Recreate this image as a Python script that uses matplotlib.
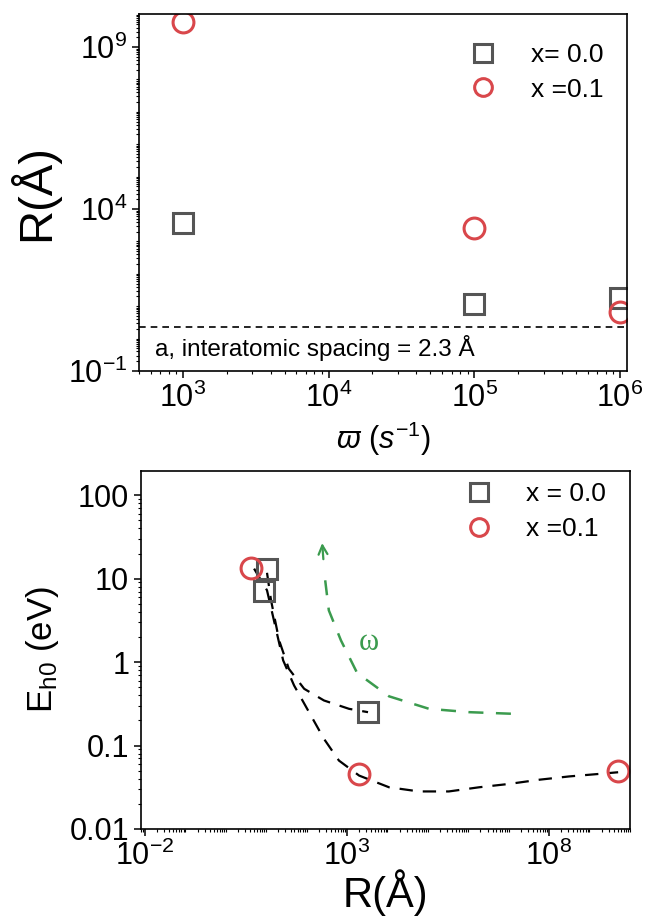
import numpy as np
import matplotlib
matplotlib.use("Agg")
import matplotlib.pyplot as plt
from matplotlib.ticker import LogLocator, NullFormatter, FixedLocator

plt.rcParams['font.family'] = ['Liberation Sans', 'DejaVu Sans']
plt.rcParams['mathtext.fontset'] = 'custom'
plt.rcParams['mathtext.rm'] = 'Liberation Sans'
plt.rcParams['mathtext.it'] = 'Liberation Sans:italic'
plt.rcParams['mathtext.bf'] = 'Liberation Sans:bold'
plt.rcParams['axes.unicode_minus'] = False

# top panel: correlation length vs frequency
omega = [1e3, 1e5, 1e6]
R_x00 = [3700, 12, 18]
R_x01 = [6e9, 2600, 6.6]
a_spacing = 2.3

# bottom panel: hopping energy vs correlation length
R_sq = [10.5, 9.0, 3300]
E_sq = [13.0, 7.2, 0.25]
R_ci = [4.2, 2000, 5e9]
E_ci = [13.5, 0.045, 0.049]

# guide curves (log10 R, log10 E)
fit0_logR = [1.02, 1.12, 1.32, 1.56, 1.94, 2.43, 3.05, 3.52]
fit0_logE = [1.07, 0.74, 0.26, -0.08, -0.32, -0.46, -0.56, -0.60]
fit1_logR = [0.70, 1.02, 1.22, 1.42, 1.69, 2.06, 2.43, 2.80, 3.30, 4.04,
             4.78, 5.52, 6.27, 7.01, 7.75, 8.50, 9.24, 9.71]
fit1_logE = [1.12, 0.86, 0.44, 0.02, -0.28, -0.60, -0.92, -1.18, -1.36, -1.50,
             -1.55, -1.55, -1.50, -1.46, -1.41, -1.37, -1.34, -1.32]
omega_logR = [2.38, 2.46, 2.55, 2.85, 3.25, 4.04, 5.03, 6.02, 7.13]
omega_logE = [1.46, 0.98, 0.62, 0.26, -0.13, -0.41, -0.56, -0.60, -0.62]

gray = '#555555'
red = '#d9474b'
green = '#3b9b4e'

fig = plt.figure(figsize=(6.48, 9.21), dpi=100)
ax1 = fig.add_axes([0.2145, 0.5972, 0.7531, 0.3876])
ax2 = fig.add_axes([0.2175, 0.0999, 0.7545, 0.3887])

mk = dict(linestyle='none', markersize=15, markeredgewidth=2.2,
          markerfacecolor='none')
leg_kw = dict(loc='upper right', frameon=False, fontsize=19, markerscale=0.85,
              handlelength=1.0, handletextpad=1.3, labelspacing=0.4)

# ---- top ----
ax1.plot(omega, R_x00, marker='s', markeredgecolor=gray, label='x= 0.0', **mk)
ax1.plot(omega, R_x01, marker='o', markeredgecolor=red, label='x =0.1', **mk)
ax1.axhline(a_spacing, color='black', lw=1.2, dashes=(4, 3), clip_on=False)
ax1.text(640, 0.5, 'a, interatomic spacing = 2.3 Å', fontsize=17.5, va='center')

ax1.set_xscale('log')
ax1.set_yscale('log')
ax1.set_xlim(500, 1.12e6)
ax1.set_ylim(0.1, 1.05e10)
ax1.set_xticks([1e3, 1e4, 1e5, 1e6])
ax1.yaxis.set_major_locator(FixedLocator([1e-1, 1e4, 1e9]))
ax1.yaxis.set_minor_locator(LogLocator(base=10, subs=np.arange(1, 10), numticks=100))
ax1.yaxis.set_minor_formatter(NullFormatter())
ax1.xaxis.set_minor_locator(LogLocator(base=10, subs=np.arange(2, 10), numticks=100))
ax1.xaxis.set_minor_formatter(NullFormatter())
ax1.set_ylabel('R(Å)', fontsize=34, labelpad=6)
ax1.set_xlabel(r'$\varpi$ $(\mathit{s}^{-1})$', fontsize=22, labelpad=4)
ax1.legend(bbox_to_anchor=(1.0, 0.985), **leg_kw)

# ---- bottom ----
ax2.plot(10 ** np.array(fit0_logR), 10 ** np.array(fit0_logE), color='black',
         lw=1.6, dashes=(6, 4.5))
ax2.plot(10 ** np.array(fit1_logR), 10 ** np.array(fit1_logE), color='black',
         lw=1.6, dashes=(6, 4.5))
ax2.plot(10 ** np.array(omega_logR[1:]), 10 ** np.array(omega_logE[1:]),
         color=green, lw=1.8, dashes=(6, 5))
ax2.annotate('', xy=(10 ** omega_logR[0], 10 ** omega_logE[0]),
             xytext=(10 ** 2.42, 10 ** 1.2),
             arrowprops=dict(arrowstyle='->', color=green, lw=1.6,
                             mutation_scale=16))
ax2.text(10 ** 3.55, 10 ** 0.23, 'ω', color=green, fontsize=22,
         family='Liberation Serif', ha='center', va='center')
ax2.plot(R_sq, E_sq, marker='s', markeredgecolor=gray, label='x = 0.0', **mk)
ax2.plot(R_ci, E_ci, marker='o', markeredgecolor=red, label='x =0.1', **mk)

ax2.set_xscale('log')
ax2.set_yscale('log')
ax2.set_xlim(10 ** -2.1, 1e10)
ax2.set_ylim(0.01, 195)
ax2.xaxis.set_major_locator(FixedLocator([1e-2, 1e3, 1e8]))
ax2.xaxis.set_minor_locator(LogLocator(base=10, subs=np.arange(1, 10), numticks=100))
ax2.xaxis.set_minor_formatter(NullFormatter())
ax2.set_yticks([0.01, 0.1, 1, 10, 100])
ax2.set_yticklabels(['0.01', '0.1', '1', '10', '100'])
ax2.yaxis.set_minor_locator(LogLocator(base=10, subs=np.arange(2, 10), numticks=100))
ax2.yaxis.set_minor_formatter(NullFormatter())
ax2.set_ylabel(r'E$_{\rm h0}$ (eV)', fontsize=25, labelpad=6)
ax2.set_xlabel('R(Å)', fontsize=30, labelpad=-2)
ax2.legend(bbox_to_anchor=(1.0, 1.035), **leg_kw)

for ax in (ax1, ax2):
    ax.tick_params(which='major', direction='out', length=5, width=1.1,
                   labelsize=22, top=False, right=False)
    ax.tick_params(which='minor', direction='out', length=2.5, width=0.8,
                   top=False, right=False)
    for s in ax.spines.values():
        s.set_linewidth(1.2)

fig.savefig('out.png', dpi=100)
